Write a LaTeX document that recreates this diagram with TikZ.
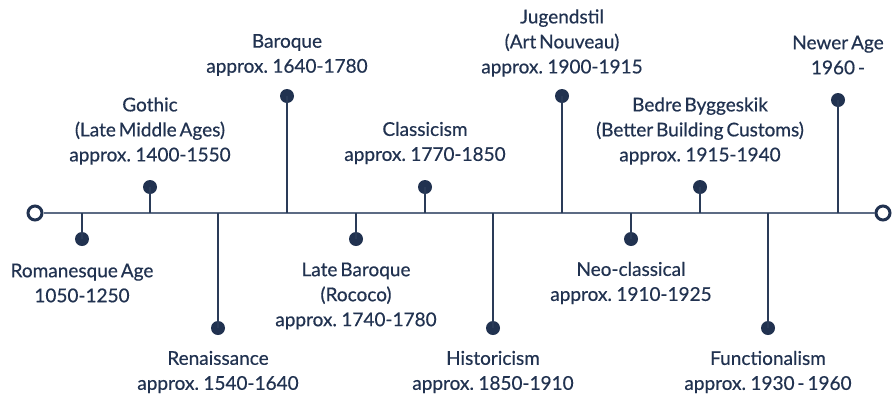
\documentclass[tikz,border=0pt]{standalone}
\usepackage{fontspec}
\setmainfont{Lato}
\newfontfamily\lblfont{Lato}[FakeBold=0.5,WordSpace=0.6]
\definecolor{navy}{RGB}{33,50,80}
\definecolor{axisgrey}{RGB}{92,107,132}
\begin{document}
\begin{tikzpicture}[x=1pt,y=-1pt,
  dot/.style={circle,fill=navy,inner sep=0pt,minimum size=14pt},
  endring/.style={circle,draw=navy,line width=3pt,fill=white,inner sep=0pt,minimum size=14pt},
  stem/.style={draw=navy!85!axisgrey,line width=1.3pt},
  lbl/.style={align=center,text=navy,font=\lblfont\fontsize{19}{25}\selectfont,inner sep=0pt}]
\useasboundingbox (0,0) rectangle (892,397);
% axis ends
\node[endring] (L) at (35,213) {};
\node[endring] (R) at (883,213) {};
\draw[axisgrey,line width=2pt] (L) -- (R);
% axis coordinates
\foreach \n/\x in {a/82,b/150,c/218,d/287,e/356,f/425,g/493,h/562,i/631,j/700,k/768,l/838}
  \coordinate (\n0) at (\x,213);
% dots
\node[dot] (a) at (82,239) {};
\node[dot] (b) at (150,187) {};
\node[dot] (c) at (218,328) {};
\node[dot] (d) at (287,96) {};
\node[dot] (e) at (356,239) {};
\node[dot] (f) at (425,187) {};
\node[dot] (g) at (493,328) {};
\node[dot] (h) at (562,96) {};
\node[dot] (i) at (631,239) {};
\node[dot] (j) at (700,187) {};
\node[dot] (k) at (768,328) {};
\node[dot] (l) at (838,100) {};
% stems
\foreach \n in {a,b,c,d,e,f,g,h,i,j,k,l}
  \draw[stem] (\n0) -- (\n.center);
% labels
\node[lbl] (ta) at (82,283) {Romanesque Age\\1050-1250};
\node[lbl] (tb) at (150,131) {Gothic\\(Late Middle Ages)\\approx. 1400-1550};
\node[lbl] (tc) at (218,372) {Renaissance\\approx. 1540-1640};
\node[lbl] (td) at (287,55) {Baroque\\approx. 1640-1780};
\node[lbl] (te) at (356,296) {Late Baroque\\(Rococo)\\approx. 1740-1780};
\node[lbl] (tf) at (425,143) {Classicism\\approx. 1770-1850};
\node[lbl] (tg) at (493,372) {Historicism\\approx. 1850-1910};
\node[lbl] (th) at (562,43) {Jugendstil\\(Art Nouveau)\\approx. 1900-1915};
\node[lbl] (ti) at (631,283) {Neo-classical\\approx. 1910-1925};
\node[lbl] (tj) at (700,131) {Bedre Byggeskik\\(Better Building Customs)\\approx. 1915-1940};
\node[lbl] (tk) at (768,372) {Functionalism\\approx. 1930 - 1960};
\node[lbl] (tl) at (838,55) {Newer Age\\1960 -};
\end{tikzpicture}
\end{document}
